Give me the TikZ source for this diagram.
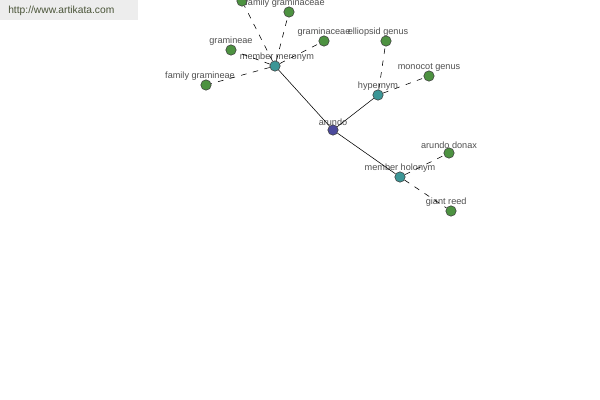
\documentclass[tikz,border=0pt]{standalone}
\usepackage{fontspec}
\setmainfont{Liberation Sans}
\usepackage{tikz}
\usetikzlibrary{arrows.meta,positioning,calc}
\definecolor{terme}{HTML}{4B4A9C}
\definecolor{relat}{HTML}{3C9696}
\definecolor{feuille}{HTML}{4D9241}
\definecolor{etiq}{HTML}{505050}
\definecolor{marque}{HTML}{4A5438}
\tikzset{
  mot/.style={circle, draw=black!75, line width=0.4pt, fill=#1, inner sep=0pt,
              minimum size=2.6mm},
  lab/.style={font=\fontsize{6.5}{7}\selectfont, text=etiq, inner sep=1pt, yshift=-0.7mm},
  lien/.style={line width=0.4pt, draw=black},
  tiret/.style={line width=0.4pt, draw=black, dash pattern=on 1.4mm off 1.6mm},
}

\begin{document}
\begin{tikzpicture}[x=0.25mm, y=-0.25mm]
    \useasboundingbox (0,0) rectangle (600,400);
    \clip (0,0) rectangle (600,400);
    \fill[white] (0,0) rectangle (600,400);
    \node[fill=black!7, minimum width=34.5mm, minimum height=5mm, anchor=north west,
      inner sep=0pt] (site) at (0,0) {};
    \node[font=\fontsize{7.3}{8}\selectfont, text=marque, anchor=west, inner sep=0pt]
      (url) at (8,11) {http://www.artikata.com};
    % concept central et relations
    \node[mot=terme, label={[lab]above:arundo}] (a) at (333,130) {};
    \node[mot=relat, label={[lab, xshift=0.5mm]above:member meronym}] (mm) at (275,66) {};
    \node[mot=relat, label={[lab]above:hypernym}] (hy) at (378,95) {};
    \node[mot=relat, label={[lab]above:member holonym}] (mh) at (400,177) {};
    % feuilles
    \node[mot=feuille] (f0) at (242,1) {};
    \node[mot=feuille, label={[lab, xshift=-1mm]above:family graminaceae}] (f1) at (289,12) {};
    \node[mot=feuille, label={[lab]above:gramineae}] (f2) at (231,50) {};
    \node[mot=feuille, label={[lab, xshift=-1.5mm]above:family gramineae}] (f3) at (206,85) {};
    \node[mot=feuille, label={[lab]above:graminaceae}] (f4) at (324,41) {};
    \node[mot=feuille, label={[lab, xshift=-2mm]above:elliopsid genus}] (f5) at (386,41) {};
    \node[mot=feuille, label={[lab]above:monocot genus}] (f6) at (429,76) {};
    \node[mot=feuille, label={[lab]above:arundo donax}] (f7) at (449,153) {};
    \node[mot=feuille, label={[lab, xshift=-1.2mm]above:giant reed}] (f8) at (451,211) {};
    \draw[lien] (a) -- (mm); \draw[lien] (a) -- (hy); \draw[lien] (a) -- (mh);
    \foreach \f in {f0,f1,f2,f3,f4} \draw[tiret] (mm) -- (\f);
    \draw[tiret] (hy) -- (f5); \draw[tiret] (hy) -- (f6);
    \draw[tiret] (mh) -- (f7); \draw[tiret] (mh) -- (f8);
  \end{tikzpicture}
\end{document}
